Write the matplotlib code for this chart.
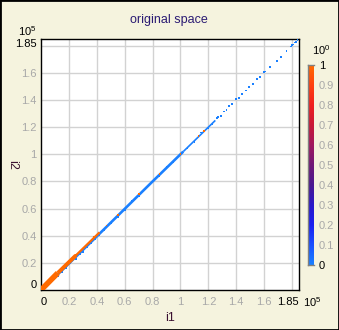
import matplotlib
matplotlib.use('Agg')
import matplotlib.pyplot as plt
import numpy as np
from matplotlib.colors import LinearSegmentedColormap
from matplotlib.patches import Rectangle

plt.rcParams['font.family'] = ['Liberation Sans', 'DejaVu Sans']
plt.rcParams['mathtext.default'] = 'regular'

# ---------------- data (values in units of 1e5) ----------------
title = 'original space'
xlabel = 'i1'
ylabel = 'i2'
axis_min = 0.0
axis_max = 1.85
tick_vals = [0.2, 0.4, 0.6, 0.8, 1.0, 1.2, 1.4, 1.6]
tick_labels = ['0.2', '0.4', '0.6', '0.8', '1', '1.2', '1.4', '1.6']
grid_vals = [0.2, 0.4, 0.6, 0.8, 1.0, 1.2, 1.4, 1.6, 1.8]
cbar_ticks = [0, 0.1, 0.2, 0.3, 0.4, 0.5, 0.6, 0.7, 0.8, 0.9, 1.0]
cbar_labels = ['0', '0.1', '0.2', '0.3', '0.4', '0.5', '0.6', '0.7', '0.8', '0.9', '1']

# dense bands
blue_band_x = [0.04, 0.40, 0.80, 1.02]
blue_band_y = [0.035, 0.395, 0.80, 1.02]
blue_tail_x = [1.02, 1.25]
blue_tail_y = [1.02, 1.25]
blue_band_c = 0.0
orange_band_x = [0.0, 0.12, 0.25, 0.42]
orange_band_y = [0.0, 0.125, 0.255, 0.425]
orange_band_c = 1.0

# scattered points
pts_x = [0.10, 0.12, 0.15, 0.18, 0.21, 0.25, 0.28, 0.30, 0.33, 0.36, 0.39, 0.42,
         0.45, 0.50, 0.55, 0.60, 0.65, 0.70, 0.75, 0.85, 0.90, 0.95, 1.05, 1.10,
         1.15, 1.20, 1.23, 1.26,
         1.27, 1.29, 1.31, 1.33, 1.35, 1.37, 1.40, 1.42, 1.44, 1.47, 1.49, 1.52,
         1.55, 1.57, 1.60, 1.61, 1.64, 1.69, 1.72, 1.76, 1.79, 1.80, 1.81, 1.82,
         1.83, 1.84,
         0.25, 0.55, 0.70, 0.85, 1.00, 1.13, 1.17, 0.47, 0.38]
pts_y = [0.085, 0.10, 0.135, 0.16, 0.195, 0.23, 0.265, 0.28, 0.315, 0.345, 0.375, 0.405,
         0.44, 0.49, 0.54, 0.59, 0.655, 0.69, 0.745, 0.84, 0.905, 0.94, 1.045, 1.09,
         1.16, 1.19, 1.225, 1.265,
         1.275, 1.285, 1.315, 1.325, 1.355, 1.37, 1.405, 1.415, 1.445, 1.47, 1.495, 1.52,
         1.555, 1.57, 1.605, 1.61, 1.645, 1.69, 1.72, 1.76, 1.795, 1.805, 1.81, 1.825,
         1.83, 1.845,
         0.26, 0.555, 0.705, 0.855, 1.00, 1.135, 1.17, 0.475, 0.39]
pts_c = [0.0] * 54 + [1.0] * 9

cmap_colors = ['#1A80FF', '#1A50FF', '#1A20F0', '#2A18C8', '#4A1890', '#701878',
               '#A01860', '#C81838', '#F02020', '#FF4010', '#FF6A00']

# ---------------- styling ----------------
bg = '#F5F3DE'
gray = '#A8A8A8'
cmap = LinearSegmentedColormap.from_list('c', cmap_colors)

fig = plt.figure(figsize=(3.39, 3.30), dpi=100, facecolor=bg)
ax = fig.add_axes([41/339, 40/330, 258/339, 251/330])
ax.set_facecolor('white')

for g in grid_vals:
    ax.axvline(g, color='#D2D2D2', lw=1.0, zorder=0)
    ax.axhline(g, color='#D2D2D2', lw=1.0, zorder=0)

ax.plot(blue_band_x, blue_band_y, color=cmap(blue_band_c), lw=1.9,
        solid_capstyle='butt', zorder=2)
ax.plot(blue_tail_x, blue_tail_y, color=cmap(blue_band_c), lw=1.2,
        solid_capstyle='butt', zorder=2)
ax.scatter(pts_x, pts_y, c=pts_c, cmap=cmap, vmin=0, vmax=1, marker='s',
           s=1.6, linewidths=0, zorder=3)
ax.plot(orange_band_x[:2], orange_band_y[:2], color=cmap(orange_band_c), lw=4.0,
        solid_capstyle='butt', zorder=4)
ax.plot(orange_band_x[1:3], orange_band_y[1:3], color=cmap(orange_band_c), lw=2.8,
        solid_capstyle='butt', zorder=4)
ax.plot(orange_band_x[2:], orange_band_y[2:], color=cmap(orange_band_c), lw=1.6,
        solid_capstyle='butt', zorder=4)

ax.set_xlim(axis_min, axis_max)
ax.set_ylim(axis_min, axis_max)

xt = [axis_min] + tick_vals + [axis_max]
xl = ['0'] + tick_labels + ['1.85']
ax.set_xticks(xt, xl)
ax.set_yticks(xt, xl)
ax.tick_params(length=0, labelsize=8, colors=gray)
ax.tick_params(axis='x', pad=5)
ax.tick_params(axis='y', pad=3)
xlabs = ax.get_xticklabels()
ylabs = ax.get_yticklabels()
for lab in (xlabs[0], xlabs[-1], ylabs[0], ylabs[-1]):
    lab.set_color('black')
xlabs[0].set_ha('left')
xlabs[-1].set_ha('right')
ylabs[0].set_va('bottom')
ylabs[-1].set_va('top')

for sp in ax.spines.values():
    sp.set_color('black')
    sp.set_linewidth(1.0)

fig.text(169/339, 1 - 20/330, title, ha='center', va='center', fontsize=9,
         color='#2B1B73')
fig.text(170/339, 1 - 318/330, xlabel, ha='center', va='center', fontsize=9,
         color='#3A1030')
fig.text(12/339, 1 - 165/330, ylabel, ha='center', va='center', fontsize=9,
         color='#3A1030', rotation=270)
fig.text(27/339, 1 - 31/330, r'$10^5$', ha='center', va='center', fontsize=8,
         color='black')
fig.text(312/339, 1 - 302/330, r'$10^5$', ha='center', va='center', fontsize=8,
         color='black')
fig.text(321/339, 1 - 50/330, r'$10^0$', ha='center', va='center', fontsize=8,
         color='black')

# colorbar
cax = fig.add_axes([307.5/339, 1 - 265/330, 6/339, 200/330])
grad = np.linspace(0, 1, 256).reshape(-1, 1)
cax.imshow(grad, cmap=cmap, aspect='auto', origin='lower', extent=[0, 1, 0, 1])
cax.set_xlim(0, 1)
cax.set_ylim(0, 1)
cax.set_xticks([])
cax.yaxis.tick_right()
cax.set_yticks(cbar_ticks, cbar_labels)
cax.tick_params(length=0, labelsize=8, colors=gray, pad=4)
clabs = cax.get_yticklabels()
clabs[0].set_color('black')
clabs[-1].set_color('black')
cax.spines['right'].set_visible(False)
for s in ('left', 'top', 'bottom'):
    cax.spines[s].set_color('#808080')
    cax.spines[s].set_linewidth(1.0)

fig.add_artist(Rectangle((0, 0), 1, 1, transform=fig.transFigure, fill=False,
                         edgecolor='black', lw=2))

fig.savefig('out.png', dpi=100, facecolor=bg)
